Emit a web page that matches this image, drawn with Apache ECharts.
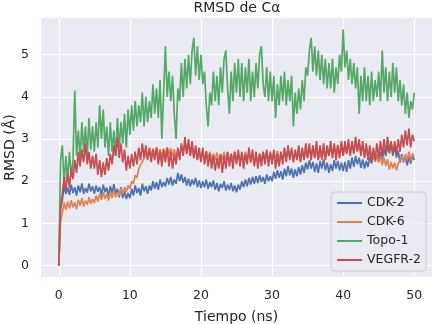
<!DOCTYPE html>
<html>
<head>
<meta charset="utf-8">
<script src="https://cdn.jsdelivr.net/npm/echarts@6/dist/echarts.min.js"></script>
<style>
  html, body { margin: 0; padding: 0; background: #fff; }
  #chart { width: 433px; height: 324px; }
</style>
</head>
<body>
<div id="chart"></div>
<script>
  // tiempo (ns), muestreo cada 0.25 ns
  let tiempo = [
    0, 0.25, 0.5, 0.75, 1, 1.25, 1.5, 1.75, 2, 2.25, 2.5, 2.75, 3, 3.25, 3.5, 3.75, 4, 4.25, 4.5, 4.75,
    5, 5.25, 5.5, 5.75, 6, 6.25, 6.5, 6.75, 7, 7.25, 7.5, 7.75, 8, 8.25, 8.5, 8.75, 9, 9.25, 9.5, 9.75,
    10, 10.25, 10.5, 10.75, 11, 11.25, 11.5, 11.75, 12, 12.25, 12.5, 12.75, 13, 13.25, 13.5, 13.75, 14, 14.25, 14.5, 14.75,
    15, 15.25, 15.5, 15.75, 16, 16.25, 16.5, 16.75, 17, 17.25, 17.5, 17.75, 18, 18.25, 18.5, 18.75, 19, 19.25, 19.5, 19.75,
    20, 20.25, 20.5, 20.75, 21, 21.25, 21.5, 21.75, 22, 22.25, 22.5, 22.75, 23, 23.25, 23.5, 23.75, 24, 24.25, 24.5, 24.75,
    25, 25.25, 25.5, 25.75, 26, 26.25, 26.5, 26.75, 27, 27.25, 27.5, 27.75, 28, 28.25, 28.5, 28.75, 29, 29.25, 29.5, 29.75,
    30, 30.25, 30.5, 30.75, 31, 31.25, 31.5, 31.75, 32, 32.25, 32.5, 32.75, 33, 33.25, 33.5, 33.75, 34, 34.25, 34.5, 34.75,
    35, 35.25, 35.5, 35.75, 36, 36.25, 36.5, 36.75, 37, 37.25, 37.5, 37.75, 38, 38.25, 38.5, 38.75, 39, 39.25, 39.5, 39.75,
    40, 40.25, 40.5, 40.75, 41, 41.25, 41.5, 41.75, 42, 42.25, 42.5, 42.75, 43, 43.25, 43.5, 43.75, 44, 44.25, 44.5, 44.75,
    45, 45.25, 45.5, 45.75, 46, 46.25, 46.5, 46.75, 47, 47.25, 47.5, 47.75, 48, 48.25, 48.5, 48.75, 49, 49.25, 49.5, 49.75,
    50]

  let cdk2 = [
    0, 1.35, 1.55, 1.9, 1.7, 1.85, 1.68, 1.92, 1.72, 1.86, 1.66, 1.9, 1.74, 1.95, 1.7, 1.84, 1.73, 1.94, 1.76, 1.88,
    1.7, 1.9, 1.75, 1.86, 1.66, 1.92, 1.74, 1.85, 1.64, 1.88, 1.72, 1.93, 1.7, 1.82, 1.62, 1.86, 1.6, 1.76, 1.58, 1.72,
    1.6, 1.82, 1.66, 1.9, 1.72, 1.84, 1.66, 1.94, 1.76, 1.88, 1.7, 1.9, 1.78, 2.0, 1.82, 1.98, 1.8, 2.04, 1.86, 1.98,
    1.88, 2.08, 1.92, 2.1, 1.9, 2.04, 1.94, 2.2, 2.0, 2.16, 1.96, 2.1, 1.9, 2.06, 1.88, 2.04, 1.92, 2.08, 1.86, 2.02,
    1.84, 2.0, 1.86, 2.04, 1.82, 1.98, 1.86, 2.02, 1.8, 1.96, 1.76, 1.94, 1.84, 2.0, 1.78, 1.92, 1.8, 1.96, 1.76, 1.9,
    1.74, 1.92, 1.8, 2.0, 1.86, 2.04, 1.88, 2.08, 1.92, 2.1, 1.94, 2.12, 1.96, 2.14, 1.98, 2.1, 1.94, 2.16, 2.0, 2.12,
    2.0, 2.22, 2.06, 2.26, 2.08, 2.24, 2.04, 2.3, 2.12, 2.36, 2.14, 2.3, 2.08, 2.28, 2.12, 2.34, 2.16, 2.38, 2.2, 2.44,
    2.28, 2.5, 2.3, 2.46, 2.22, 2.42, 2.2, 2.48, 2.3, 2.52, 2.26, 2.44, 2.2, 2.4, 2.24, 2.5, 2.3, 2.48, 2.26, 2.44,
    2.24, 2.46, 2.22, 2.5, 2.3, 2.56, 2.34, 2.6, 2.4, 2.56, 2.32, 2.52, 2.3, 2.48, 2.34, 2.58, 2.42, 2.66, 2.46, 2.62,
    2.48, 2.7, 2.52, 2.76, 2.6, 2.84, 2.66, 2.9, 2.62, 2.82, 2.56, 2.72, 2.44, 2.64, 2.46, 2.6, 2.38, 2.58, 2.42, 2.62,
    2.5]

  let cdk6 = [
    0, 1.05, 1.25, 1.5, 1.32, 1.52, 1.36, 1.55, 1.38, 1.5, 1.34, 1.56, 1.42, 1.6, 1.4, 1.54, 1.44, 1.62, 1.46, 1.58,
    1.48, 1.66, 1.52, 1.7, 1.56, 1.74, 1.58, 1.7, 1.54, 1.76, 1.6, 1.78, 1.62, 1.74, 1.66, 1.84, 1.7, 1.86, 1.74, 1.9,
    1.82, 2.0, 1.94, 2.14, 2.08, 2.3, 2.26, 2.46, 2.44, 2.64, 2.56, 2.74, 2.6, 2.78, 2.62, 2.8, 2.6, 2.76, 2.58, 2.78,
    2.62, 2.8, 2.64, 2.78, 2.6, 2.76, 2.56, 2.74, 2.62, 2.82, 2.66, 2.86, 2.68, 2.84, 2.62, 2.8, 2.56, 2.74, 2.52, 2.7,
    2.5, 2.68, 2.52, 2.72, 2.54, 2.7, 2.48, 2.66, 2.5, 2.68, 2.46, 2.64, 2.5, 2.7, 2.52, 2.68, 2.48, 2.66, 2.5, 2.7,
    2.52, 2.66, 2.46, 2.64, 2.5, 2.7, 2.52, 2.66, 2.44, 2.62, 2.42, 2.6, 2.46, 2.66, 2.5, 2.68, 2.52, 2.7, 2.48, 2.66,
    2.5, 2.7, 2.54, 2.72, 2.5, 2.68, 2.52, 2.74, 2.56, 2.76, 2.58, 2.72, 2.5, 2.7, 2.52, 2.68, 2.48, 2.7, 2.54, 2.72,
    2.56, 2.76, 2.6, 2.8, 2.58, 2.74, 2.52, 2.7, 2.5, 2.72, 2.56, 2.76, 2.6, 2.8, 2.64, 2.82, 2.66, 2.86, 2.64, 2.8,
    2.62, 2.82, 2.66, 2.86, 2.7, 2.88, 2.68, 2.9, 2.72, 2.88, 2.66, 2.84, 2.62, 2.8, 2.58, 2.74, 2.54, 2.7, 2.46, 2.64,
    2.44, 2.6, 2.38, 2.56, 2.36, 2.52, 2.28, 2.46, 2.3, 2.44, 2.26, 2.42, 2.4, 2.6, 2.44, 2.64, 2.5, 2.7, 2.48, 2.66,
    2.58]

  let topo1 = [
    0, 2.5, 2.85, 1.9, 2.6, 2.0, 2.7, 2.1, 2.5, 4.15, 2.6, 3.2, 2.55, 3.4, 2.7, 3.3, 2.6, 3.5, 2.75, 3.3,
    2.7, 3.4, 2.8, 3.8, 3.0, 3.7, 2.8, 3.3, 2.6, 3.4, 2.7, 3.2, 2.6, 3.5, 2.8, 3.4, 2.9, 3.6, 2.8, 3.7,
    3.1, 3.8, 3.2, 3.9, 3.3, 3.8, 3.4, 4.1, 3.3, 4.0, 3.4, 3.9, 3.5, 4.3, 3.6, 4.2, 3.5, 4.4, 3.0, 4.1,
    5.2, 4.0, 4.6, 3.9, 4.5, 3.6, 3.0, 4.2, 3.9, 4.8, 4.0, 4.9, 4.2, 5.0, 4.3, 5.1, 5.4, 4.5, 5.2, 4.4,
    5.0, 4.3, 4.6, 3.8, 3.3, 4.1, 3.8, 4.6, 3.9, 4.5, 3.8, 4.7, 4.1, 4.9, 5.1, 4.2, 3.6, 4.6, 3.9, 4.8,
    4.1, 4.9, 4.0, 4.8, 3.9, 4.7, 4.1, 4.9, 3.9, 4.6, 4.0, 4.8, 4.2, 5.0, 5.2, 4.3, 4.0, 4.7, 3.9, 4.6,
    3.9, 4.5, 3.5, 4.3, 3.8, 4.5, 3.9, 4.6, 3.8, 4.4, 3.9, 4.5, 3.3, 4.1, 3.6, 4.2, 3.7, 4.4, 3.9, 4.7,
    4.5, 5.1, 5.4, 4.6, 5.2, 4.5, 5.1, 4.4, 5.0, 4.3, 4.9, 4.2, 4.8, 4.2, 4.9, 4.1, 4.7, 4.3, 5.0, 4.6,
    5.6, 4.7, 5.1, 4.4, 4.9, 4.3, 4.8, 4.2, 4.7, 3.6, 4.5, 3.9, 4.7, 3.9, 4.5, 3.8, 4.6, 3.9, 4.4, 4.0,
    4.6, 3.9, 5.1, 4.1, 4.7, 3.9, 4.6, 4.0, 4.8, 4.1, 4.7, 3.9, 4.4, 3.8, 4.3, 3.6, 4.1, 3.5, 3.9, 3.7,
    4.1]

  let vegfr2 = [
    0, 1.4, 1.7, 2.1, 1.8, 2.2, 1.85, 2.3, 2.05, 2.5, 2.2, 2.7, 2.35, 2.75, 2.45, 2.9, 2.4, 2.7, 2.3, 2.6,
    2.3, 2.65, 2.15, 2.5, 2.1, 2.45, 2.15, 2.55, 2.25, 2.65, 2.4, 2.85, 2.6, 3.05, 2.55, 2.9, 2.45, 2.75, 2.25, 2.6,
    2.3, 2.65, 2.35, 2.7, 2.4, 2.8, 2.5, 2.9, 2.55, 2.85, 2.5, 2.8, 2.45, 2.75, 2.5, 2.8, 2.4, 2.7, 2.35, 2.75,
    2.45, 2.8, 2.35, 2.7, 2.3, 2.65, 2.4, 2.8, 2.5, 2.9, 2.6, 3.05, 2.65, 3.0, 2.6, 2.95, 2.55, 2.85, 2.5, 2.8,
    2.45, 2.8, 2.4, 2.7, 2.35, 2.65, 2.3, 2.6, 2.25, 2.55, 2.3, 2.65, 2.2, 2.6, 2.3, 2.7, 2.35, 2.65, 2.3, 2.7,
    2.4, 2.75, 2.35, 2.7, 2.3, 2.65, 2.4, 2.8, 2.45, 2.75, 2.35, 2.7, 2.3, 2.65, 2.35, 2.7, 2.4, 2.75, 2.35, 2.7,
    2.4, 2.75, 2.3, 2.65, 2.35, 2.7, 2.4, 2.8, 2.45, 2.85, 2.5, 2.8, 2.45, 2.75, 2.5, 2.85, 2.45, 2.8, 2.5, 2.9,
    2.55, 2.9, 2.5, 2.85, 2.55, 2.95, 2.5, 2.85, 2.55, 2.9, 2.5, 2.85, 2.6, 2.95, 2.55, 2.9, 2.5, 2.85, 2.55, 2.95,
    2.6, 2.95, 2.65, 3.0, 2.6, 2.95, 2.65, 3.05, 2.7, 3.0, 2.6, 2.95, 2.55, 2.9, 2.5, 2.85, 2.45, 2.8, 2.5, 2.9,
    2.55, 2.95, 2.6, 3.0, 2.65, 3.05, 2.7, 2.95, 2.6, 2.95, 2.65, 3.0, 2.7, 3.1, 2.8, 3.2, 2.85, 3.25, 2.8, 3.1,
    2.95]

  let xTicks = [0, 10, 20, 30, 40, 50]
  let yTicks = [0, 1, 2, 3, 4, 5]

  let nombres = ['CDK-2', 'CDK-6', 'Topo-1', 'VEGFR-2']
  let colores = ['#4c72b0', '#dd8452', '#55a868', '#c44e52']
  let valores = [cdk2, cdk6, topo1, vegfr2]

  let textColor = '#262626'
  let fontFamily = '"DejaVu Sans", sans-serif'

  let chart = echarts.init(document.getElementById('chart'))
  let option = {
    backgroundColor: '#ffffff',
    animation: false,
    title: {
      text: 'RMSD de Cα',
      left: 237,
      textAlign: 'center',
      top: 1,
      padding: 0,
      textStyle: {color: textColor, fontSize: 14, fontWeight: 'normal', fontFamily: fontFamily}
    },
    grid: {
      left: 41,
      right: 1,
      top: 18,
      bottom: 47,
      outerBoundsMode: 'none',
      containLabel: false,
      show: true,
      backgroundColor: '#eaeaf2',
      borderWidth: 0
    },
    legend: {
      orient: 'vertical',
      right: 7,
      top: 192,
      data: nombres,
      icon: 'rect',
      itemWidth: 25,
      itemHeight: 2,
      itemGap: 5,
      itemTextGap: 11,
      padding: [4, 5, 4, 6],
      backgroundColor: 'rgba(234,234,242,0.8)',
      borderColor: '#cccccc',
      borderWidth: 1,
      borderRadius: 3,
      textStyle: {color: textColor, fontSize: 12.5, lineHeight: 14, fontFamily: fontFamily}
    },
    xAxis: {
      type: 'value',
      min: -2.5,
      max: 52.5,
      name: 'Tiempo (ns)',
      nameLocation: 'middle',
      nameGap: 33,
      nameTextStyle: {color: textColor, fontSize: 14, fontFamily: fontFamily},
      axisLine: {show: false},
      axisTick: {show: false, customValues: xTicks},
      axisLabel: {customValues: xTicks, color: textColor, fontSize: 12.5, margin: 12, fontFamily: fontFamily},
      splitLine: {show: true, lineStyle: {color: '#ffffff', width: 1}}
    },
    yAxis: {
      type: 'value',
      min: -0.27,
      max: 5.87,
      name: 'RMSD (Å)',
      nameLocation: 'middle',
      nameGap: 24,
      nameMoveOverlap: false,
      nameTextStyle: {color: textColor, fontSize: 14, fontFamily: fontFamily},
      axisLine: {show: false},
      axisTick: {show: false, customValues: yTicks},
      axisLabel: {customValues: yTicks, color: textColor, fontSize: 12.5, margin: 12, fontFamily: fontFamily},
      splitLine: {show: true, lineStyle: {color: '#ffffff', width: 1}}
    },
    series: nombres.map((nombre, i) => ({
      name: nombre,
      type: 'line',
      showSymbol: false,
      symbol: 'none',
      lineStyle: {color: colores[i], width: 1.7},
      itemStyle: {color: colores[i]},
      data: tiempo.map((t, j) => [t, valores[i][j]])
    }))
  }
  chart.setOption(option)
</script>
</body>
</html>
